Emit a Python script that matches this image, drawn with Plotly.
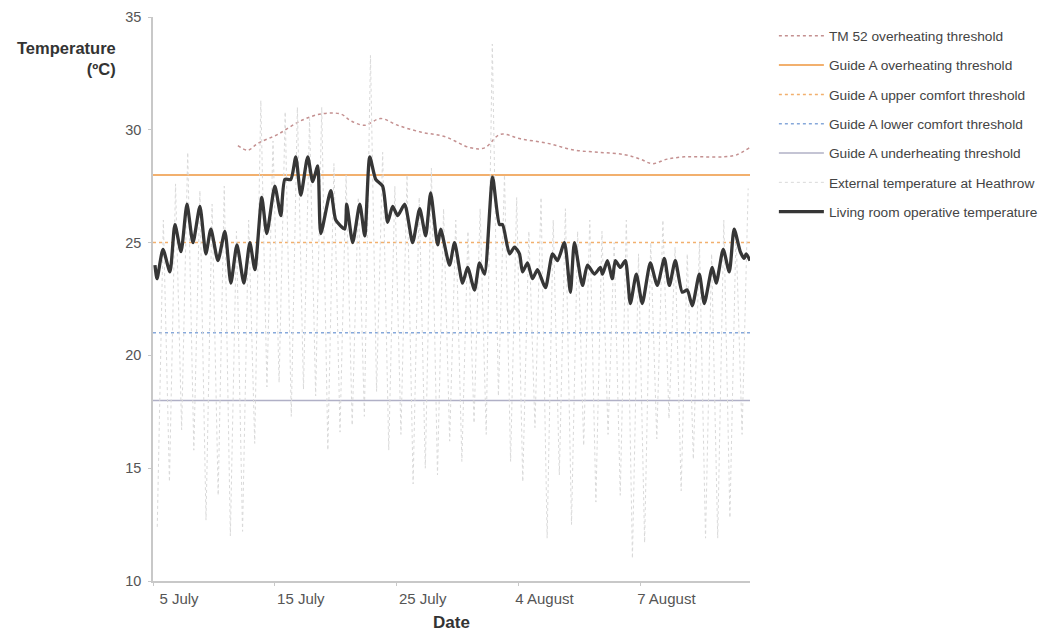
import plotly.graph_objects as go

# ---------------- data (days since 5 July) ----------------
tick_days = [0, 10, 20, 30, 40]
tick_labels = ["5 July", "15 July", "25 July", "4 August", "7 August"]
y_ticks = [10, 15, 20, 25, 30, 35]

# External temperature at Heathrow: daily minimum and maximum
ext_min = [12.4, 14.4, 16.7, 15.8, 12.7, 13.8, 12.0, 12.2, 16.1, 18.6,
           18.8, 17.3, 18.5, 18.2, 15.8, 16.6, 16.9, 17.3, 18.4, 15.8,
           16.5, 14.3, 15.0, 14.7, 16.2, 15.3, 17.0, 16.5, 18.2, 15.3,
           14.4, 16.8, 11.9, 14.7, 12.5, 16.0, 13.5, 16.5, 13.8, 11.0,
           11.7, 16.3, 17.2, 14.0, 15.4, 11.9, 11.9, 12.8, 16.5]
ext_max = [26.0, 27.6, 29.0, 27.3, 26.7, 27.5, 25.5, 26.0, 31.3, 29.5,
           30.8, 31.0, 30.5, 31.0, 28.5, 28.0, 27.0, 33.3, 29.0, 27.5,
           28.0, 27.0, 28.3, 26.5, 26.0, 25.5, 26.5, 33.8, 28.0, 27.0,
           25.5, 27.0, 26.0, 26.5, 25.5, 26.0, 25.5, 25.0, 26.0, 24.5,
           25.0, 26.0, 24.8, 24.5, 25.0, 24.5, 26.0, 25.5, 27.4]
ext_time_of_day = [0.35, 0.85]  # fraction of the day for min / max readings

# Living room operative temperature
room_days = [0.16, 0.33, 0.82, 1.39, 1.80, 2.30, 2.79, 3.28, 3.85, 4.34,
             4.75, 5.33, 5.90, 6.39, 6.89, 7.46, 7.95, 8.36, 8.93, 9.34,
             10.00, 10.49, 10.82, 11.31, 11.72, 12.13, 12.70, 13.11, 13.52, 13.77,
             14.59, 15.00, 15.74, 15.90, 16.39, 16.97, 17.38, 17.79, 18.28, 18.85,
             19.26, 19.67, 20.08, 20.66, 21.31, 21.89, 22.38, 22.79, 23.36, 23.61,
             24.34, 24.75, 25.41, 25.82, 26.39, 26.80, 27.21, 27.87, 28.44, 28.69,
             29.26, 29.67, 30.08, 30.33, 30.74, 31.15, 31.56, 32.21, 32.79, 33.20,
             33.77, 34.26, 34.59, 35.25, 35.66, 36.23, 36.72, 36.89, 37.30, 37.70,
             37.95, 38.36, 38.77, 39.18, 39.67, 40.16, 40.82, 41.39, 41.97, 42.38,
             42.87, 43.44, 43.85, 44.26, 44.84, 45.25, 45.90, 46.23, 46.80, 47.30,
             47.70, 48.20, 48.52, 48.69, 49.00]
room_temp = [24.0, 23.4, 24.7, 23.7, 25.8, 24.6, 26.7, 25.0, 26.6, 24.5,
             25.6, 24.2, 25.5, 23.2, 24.9, 23.2, 25.0, 23.8, 27.0, 25.4,
             27.5, 26.2, 27.8, 27.8, 28.8, 27.1, 28.8, 27.7, 28.4, 25.4,
             27.3, 26.0, 25.6, 26.7, 25.0, 26.7, 25.3, 28.8, 27.8, 27.5,
             25.9, 26.6, 26.2, 26.7, 25.0, 26.5, 25.3, 27.2, 24.9, 25.6,
             24.0, 25.0, 23.2, 23.9, 22.9, 24.1, 23.6, 27.9, 25.8, 25.8,
             24.5, 24.8, 24.5, 23.7, 24.1, 23.4, 23.8, 23.0, 24.5, 24.2,
             25.0, 22.8, 25.0, 23.1, 24.0, 23.6, 23.9, 23.6, 24.2, 23.4,
             24.2, 23.9, 24.2, 22.3, 23.6, 22.3, 24.1, 23.1, 24.3, 23.1,
             24.2, 22.8, 22.9, 22.2, 23.6, 22.3, 23.9, 23.2, 24.7, 23.7,
             25.6, 24.6, 24.3, 24.5, 24.2]

# TM52 overheating threshold
tm52_days = [6.97, 7.79, 8.61, 10.25, 12.13, 13.77, 15.41, 16.23, 17.38, 18.69,
             20.08, 21.97, 23.93, 26.07, 27.21, 28.52, 30.16, 32.38, 34.59, 36.72,
             38.69, 40.00, 40.98, 42.21, 43.61, 45.25, 46.89, 47.95, 48.93]
tm52_temp = [29.3, 29.1, 29.4, 29.8, 30.4, 30.7, 30.7, 30.4, 30.2, 30.5,
             30.2, 29.9, 29.7, 29.2, 29.2, 29.8, 29.6, 29.4, 29.1, 29.0,
             28.9, 28.7, 28.5, 28.7, 28.8, 28.8, 28.8, 28.9, 29.2]

# Guide A thresholds
guide_names = ["Guide A overheating threshold", "Guide A upper comfort threshold",
               "Guide A lower comfort threshold", "Guide A underheating threshold"]
guide_values = [28, 25, 21, 18]
x_span = [0, 49]

# ---------------- build series ----------------
ext_t, ext_v = [], []
for d, (lo, hi) in enumerate(zip(ext_min, ext_max)):
    ext_t += [d + ext_time_of_day[0], d + ext_time_of_day[1]]
    ext_v += [lo, hi]

FONT = "Liberation Sans, Arial, Helvetica, sans-serif"
fig = go.Figure()

fig.add_trace(go.Scatter(x=tm52_days, y=tm52_temp, mode="lines",
                         name="TM 52 overheating threshold", legendgroup="a",
                         line=dict(color="#c49090", width=1.5, dash="dot", shape="spline")))
guide_styles = [dict(color="#f2b06e", width=2, dash="solid"),
                dict(color="#f2b06e", width=1.5, dash="dot"),
                dict(color="#86a8da", width=1.5, dash="dot"),
                dict(color="#b0b0c6", width=1.5, dash="solid")]
for i, (nm, val) in enumerate(zip(guide_names, guide_values)):
    fig.add_trace(go.Scatter(x=x_span, y=[val, val], mode="lines", name=nm,
                             legendgroup="g%d" % i, line=guide_styles[i]))
fig.add_trace(go.Scatter(x=ext_t, y=ext_v, mode="lines",
                         name="External temperature at Heathrow", legendgroup="e",
                         line=dict(color="#d9d9d9", width=1, dash="dot")))
fig.add_trace(go.Scatter(x=room_days, y=room_temp, mode="lines",
                         name="Living room operative temperature", legendgroup="r",
                         line=dict(color="#363636", width=3.3, shape="spline",
                                   smoothing=0.6)))

fig.update_layout(
    width=1040, height=627,
    margin=dict(l=145, r=298, t=9, b=54, autoexpand=False),
    paper_bgcolor="white", plot_bgcolor="white",
    font=dict(family=FONT, size=12, color="#555"),
    showlegend=True,
    legend=dict(x=1.04, y=0.994, xanchor="left", yanchor="top",
                font=dict(size=13.7, color="#444"), tracegroupgap=8.5,
                itemwidth=45, bgcolor="rgba(0,0,0,0)"),
    xaxis=dict(range=[0, 49], tickvals=tick_days, ticktext=tick_labels,
               showgrid=False, zeroline=False, showline=True, linecolor="#c8c8c8",
               linewidth=1.5, ticks="outside", ticklen=3, tickcolor="#c8c8c8",
               ticklabelshift=26, tickfont=dict(size=15, color="#555"),
               automargin=False,
               title=dict(text="<b>Date</b>", font=dict(size=17, color="#333"),
                          standoff=10)),
    yaxis=dict(range=[10, 35], tickvals=y_ticks, showgrid=False, zeroline=False,
               showline=True, linecolor="#c8c8c8", linewidth=1.5, ticks="outside",
               ticklen=3, tickcolor="#c8c8c8", ticklabelstandoff=4,
               ticklabeloverflow="allow", automargin=False,
               tickfont=dict(size=14.5, color="#555")),
    annotations=[dict(text="<b>Temperature</b><br><b>(ºC)</b>", xref="paper", yref="paper",
                      x=-0.0586, y=0.926, xanchor="right", yanchor="middle", align="right",
                      showarrow=False, font=dict(size=16.5, color="#333"))],
)

fig.write_html("out.html")
